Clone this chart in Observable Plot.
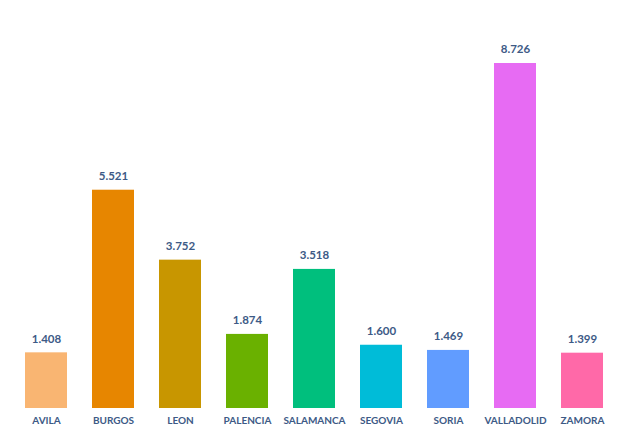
<!DOCTYPE html>
<html>
<head>
<meta charset="utf-8">
<script src="https://cdn.jsdelivr.net/npm/d3@7"></script>
<script src="https://cdn.jsdelivr.net/npm/@observablehq/plot@0.6"></script>
<style>
  body { margin: 0; background: #fff; }
</style>
</head>
<body>
<div id="chart"></div>
<script>
const provinces = ["AVILA", "BURGOS", "LEON", "PALENCIA", "SALAMANCA", "SEGOVIA", "SORIA", "VALLADOLID", "ZAMORA"];
const values = [1.408, 5.521, 3.752, 1.874, 3.518, 1.600, 1.469, 8.726, 1.399];
const labels = ["1.408", "5.521", "3.752", "1.874", "3.518", "1.600", "1.469", "8.726", "1.399"];
const colors = ["#F9B572", "#E78600", "#C89600", "#6AB100", "#00BF7D", "#00BCD8", "#619CFF", "#E76BF3", "#FF69A8"];

const data = provinces.map((p, i) => ({ province: p, value: values[i], label: labels[i] }));
const textColor = "#3d5a86";

const chart = Plot.plot({
  width: 629,
  height: 435,
  marginTop: 63,
  marginBottom: 27,
  marginLeft: 12.5,
  marginRight: 12.5,
  style: { fontFamily: "Lato, 'Open Sans', sans-serif", background: "#fff" },
  x: { domain: provinces, paddingInner: 0.373, paddingOuter: 0.1865, label: null },
  y: { domain: [0, 8.726], axis: null },
  color: { domain: provinces, range: colors },
  marks: [
    Plot.barY(data, { x: "province", y: "value", fill: "province" }),
    Plot.text(data, { x: "province", y: "value", text: "label", dy: -14, fill: textColor, fontSize: 11.5, fontWeight: "bold" }),
    Plot.axisX({ tickSize: 0, tickPadding: 8, label: null, fontSize: 10, fontWeight: "bold", color: textColor })
  ]
});
document.getElementById("chart").append(chart);
</script>
</body>
</html>
